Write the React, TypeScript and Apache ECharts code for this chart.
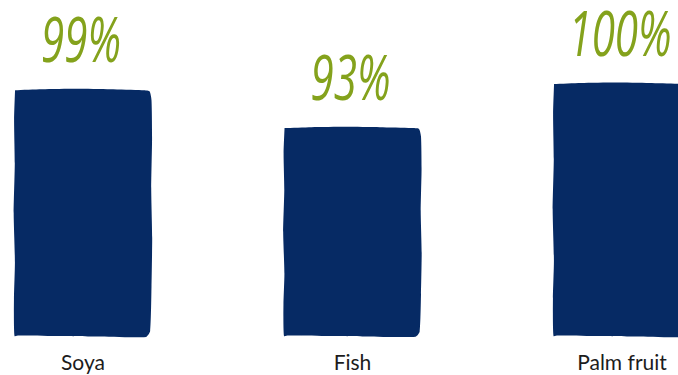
import React, { useEffect, useRef } from "react";
import * as echarts from "echarts";

const categories = ["Soya", "Fish", "Palm fruit"];
const values = [99, 93, 100];

const BAR_COLOR = "#062a64";
const LABEL_COLOR = "#84a21c";
const BAR_WIDTH = 137;
const AXIS_MIN = 60;

// Hand-drawn wobble (fractions of bar size), purely stylistic
const leftEdge = [
  [0.0, 0.0], [-0.004, 0.15], [0.003, 0.3], [-0.006, 0.5], [0.002, 0.7], [-0.003, 0.88], [0.004, 1.0],
];
const topEdge = [
  [0.004, 1.0], [0.2, 1.004], [0.45, 1.006], [0.7, 1.004], [0.93, 1.0], [0.985, 0.996],
];
const rightEdge = [
  [1.0, 0.96], [1.004, 0.8], [0.998, 0.6], [1.005, 0.4], [1.0, 0.2], [0.99, 0.02],
];
const bottomEdge = [
  [0.96, -0.004], [0.6, -0.002], [0.3, 0.0], [0.03, 0.002],
];

export default function App() {
  const ref = useRef<HTMLDivElement>(null);
  useEffect(() => {
    if (!ref.current) return;
    const chart = echarts.init(ref.current, null, { renderer: "svg" });
    chart.setOption({
      animation: false,
      grid: { left: 83, right: 56, top: 84, bottom: 39 },
      xAxis: {
        type: "category",
        data: categories,
        boundaryGap: false,
        axisLine: { show: false },
        axisTick: { show: false },
        axisLabel: {
          color: "#1c1c1c",
          fontSize: 21,
          fontFamily: "Lato, 'Noto Sans', sans-serif",
          margin: 15,
        },
      },
      yAxis: {
        type: "value",
        min: AXIS_MIN,
        max: 100,
        show: false,
        splitLine: { show: false },
      },
      series: [
        {
          type: "custom",
          data: values.map((v, i) => [i, v]),
          renderItem: (params: any, api: any) => {
            const idx = api.value(0);
            const val = api.value(1);
            const top = api.coord([idx, val]);
            const base = api.coord([idx, AXIS_MIN]);
            const cx = top[0];
            const x0 = cx - BAR_WIDTH / 2;
            const h = base[1] - top[1];
            const pts = [...leftEdge, ...topEdge, ...rightEdge, ...bottomEdge].map(
              ([fx, fy]) => [x0 + fx * BAR_WIDTH, base[1] - fy * h]
            );
            return {
              type: "group",
              children: [
                {
                  type: "polygon",
                  shape: { points: pts, smooth: 0.2 },
                  style: { fill: BAR_COLOR },
                },
                {
                  type: "text",
                  x: cx - 2,
                  y: top[1] - 21,
                  scaleX: 0.68,
                  style: {
                    text: val + "%",
                    fill: LABEL_COLOR,
                    font: "italic 400 62px 'Open Sans', 'DejaVu Sans', sans-serif",
                    align: "center",
                    verticalAlign: "bottom",
                  },
                },
              ],
            };
          },
        },
      ],
    });
    return () => chart.dispose();
  }, []);
  return <div ref={ref} style={{ width: 678, height: 375, position: "absolute", left: 0, top: 0 }} />;
}
